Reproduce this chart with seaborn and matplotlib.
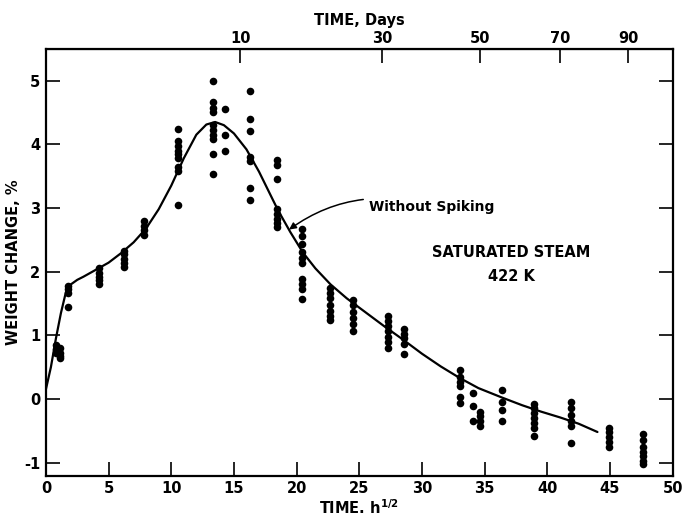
import numpy as np
import pandas as pd
import matplotlib
matplotlib.use("Agg")
import matplotlib.pyplot as plt
import seaborn as sns

# ---- data ----
cluster_x = [0.8, 1.1, 1.75, 4.2, 6.2, 7.8, 10.5, 13.3, 14.3, 16.3, 18.4, 20.4,
             22.7, 24.5, 27.3, 28.6, 33.0, 34.1, 34.6, 36.4, 38.9, 41.9, 44.9, 47.6]
cluster_y = [
    [0.85, 0.78, 0.72],
    [0.80, 0.72, 0.68, 0.65],
    [1.78, 1.72, 1.67, 1.45],
    [2.05, 1.98, 1.92, 1.86, 1.80],
    [2.33, 2.27, 2.20, 2.13, 2.07],
    [2.80, 2.72, 2.65, 2.58],
    [4.24, 4.05, 3.97, 3.90, 3.84, 3.78, 3.65, 3.58, 3.05],
    [5.00, 4.66, 4.57, 4.50, 4.30, 4.22, 4.15, 4.08, 3.85, 3.53],
    [4.55, 4.15, 3.90],
    [4.83, 4.39, 4.21, 3.80, 3.73, 3.32, 3.13],
    [3.75, 3.67, 3.45, 2.98, 2.90, 2.83, 2.76, 2.70],
    [2.67, 2.56, 2.44, 2.30, 2.22, 2.13, 1.88, 1.80, 1.72, 1.57],
    [1.74, 1.66, 1.58, 1.48, 1.38, 1.30, 1.24],
    [1.56, 1.47, 1.37, 1.27, 1.17, 1.06],
    [1.30, 1.22, 1.14, 1.06, 0.98, 0.90, 0.80],
    [1.10, 1.02, 0.95, 0.86, 0.70],
    [0.45, 0.35, 0.27, 0.20, 0.03, -0.07],
    [0.10, -0.11, -0.34],
    [-0.20, -0.27, -0.35, -0.42],
    [0.14, -0.05, -0.18, -0.34],
    [-0.08, -0.15, -0.22, -0.30, -0.38, -0.45, -0.58],
    [-0.05, -0.15, -0.25, -0.35, -0.42, -0.70],
    [-0.45, -0.52, -0.60, -0.67, -0.75],
    [-0.55, -0.65, -0.75, -0.83, -0.90, -0.97, -1.03],
]

curve_x = [0, 0.4, 0.8, 1.2, 1.6, 2.0, 2.5, 3.0, 4.0, 5.0, 6.0, 7.0, 8.0, 9.0,
           10.0, 11.0, 12.0, 12.8, 13.5, 14.2, 15.0, 16.0, 17.0, 17.8, 18.5,
           19.5, 20.5, 21.5, 22.7, 24.0, 25.5, 27.0, 28.5, 30.0, 31.5, 33.0,
           34.5, 36.4, 38.0, 39.5, 41.0, 42.5, 44.0]
curve_y = [0.15, 0.50, 0.95, 1.35, 1.68, 1.80, 1.87, 1.92, 2.03, 2.14, 2.29,
           2.46, 2.68, 2.98, 3.35, 3.78, 4.15, 4.31, 4.35, 4.30, 4.17, 3.92,
           3.57, 3.25, 2.97, 2.62, 2.30, 2.05, 1.80, 1.58, 1.36, 1.14, 0.93,
           0.71, 0.51, 0.33, 0.17, 0.02, -0.10, -0.20, -0.29, -0.39, -0.52]

x_ticks = [0, 5, 10, 15, 20, 25, 30, 35, 40, 45, 50]
y_ticks = [-1, 0, 1, 2, 3, 4, 5]
day_ticks = [10, 30, 50, 70, 90]

# ---- build frames ----
pts = pd.DataFrame(
    [(x, y) for x, ys in zip(cluster_x, cluster_y) for y in ys],
    columns=["t", "w"])
crv = pd.DataFrame({"t": curve_x, "w": curve_y})

sns.set_style("ticks")
plt.rcParams["font.family"] = ["DejaVu Sans"]
plt.rcParams["font.weight"] = "bold"
for k in ["text.color", "axes.labelcolor", "xtick.color", "ytick.color",
          "axes.edgecolor"]:
    plt.rcParams[k] = "black"

FS = 10.5

fig = plt.figure(figsize=(6.85, 5.19), dpi=100)
ax = fig.add_axes([0.067, 0.083, 0.915, 0.823])

sns.lineplot(data=crv, x="t", y="w", ax=ax, color="black", linewidth=1.6,
             sort=False, estimator=None)
sns.scatterplot(data=pts, x="t", y="w", ax=ax, color="black", s=30,
                edgecolor="black", linewidth=0, zorder=3)

ax.set_xlim(0, 50)
ax.set_ylim(-1.21, 5.5)
ax.set_xticks(x_ticks)
ax.set_yticks(y_ticks)
ax.set_xticklabels([str(v) for v in x_ticks], fontsize=FS, fontweight="bold")
ax.set_yticklabels([str(v) for v in y_ticks], fontsize=FS, fontweight="bold")
ax.tick_params(axis="both", direction="in", length=10, width=1.2,
               right=True, pad=4, colors="black")
ax.tick_params(axis="y", which="both", right=True, labelright=False)
for s in ax.spines.values():
    s.set_linewidth(1.6)
    s.set_color("black")
    s.set_visible(True)

ax.set_xlabel("TIME. h$^{\\mathbf{1/2}}$", fontsize=FS, fontweight="bold", labelpad=1)
ax.set_ylabel("WEIGHT CHANGE, %", fontsize=FS, fontweight="bold", labelpad=2)

sec = ax.secondary_xaxis("top", functions=(lambda x: np.asarray(x) ** 2 / 24.0,
                                           lambda d: np.sqrt(np.clip(d, 0, None) * 24.0)))
sec.set_xticks(day_ticks)
sec.set_xticklabels([str(v) for v in day_ticks], fontsize=FS, fontweight="bold")
sec.tick_params(direction="in", length=10, width=1.2, pad=2, colors="black")
sec.set_xlabel("TIME, Days", fontsize=FS, fontweight="bold", labelpad=4)

ax.annotate("Without Spiking", xy=(19.4, 2.66), xytext=(25.8, 3.02),
            fontsize=10, fontweight="bold", va="center", ha="left",
            arrowprops=dict(arrowstyle="-|>", color="black", lw=1.1,
                            connectionstyle="arc3,rad=0.25",
                            shrinkA=2, shrinkB=0, mutation_scale=10))
ax.text(37.1, 2.3, "SATURATED STEAM", fontsize=FS, fontweight="bold",
        ha="center", va="center")
ax.text(37.1, 1.92, "422 K", fontsize=FS, fontweight="bold",
        ha="center", va="center")

fig.savefig("out.png", dpi=100)
